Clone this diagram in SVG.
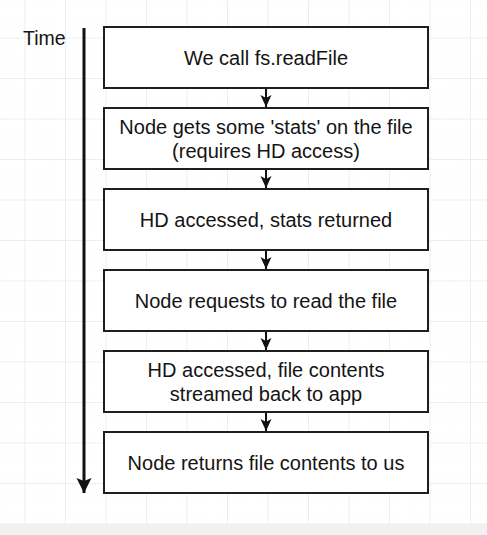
<svg xmlns="http://www.w3.org/2000/svg" width="487" height="535" viewBox="0 0 487 535">
  <defs>
    <pattern id="minor" patternUnits="userSpaceOnUse" x="24.5" y="-3" width="10.125" height="10.125">
      <path d="M0,0 H10.125 M0,0 V10.125" fill="none" stroke="#f5f5f5" stroke-width="1" stroke-dasharray="1,2"/>
    </pattern>
    <pattern id="major" patternUnits="userSpaceOnUse" x="24.5" y="-3" width="40.5" height="40.5">
      <path d="M0,0.5 H40.5 M0.5,0 V40.5" fill="none" stroke="#eeeeee" stroke-width="1"/>
    </pattern>
    <marker id="arrow" markerUnits="userSpaceOnUse" viewBox="-13 -7 14 14" markerWidth="14" markerHeight="14" refX="0" refY="0" orient="auto">
      <path d="M0,0 L-12,-5.5 L-9,0 L-12,5.5 Z" fill="#111"/>
    </marker>
    <marker id="bigArrow" markerUnits="userSpaceOnUse" viewBox="-16 -8 17 16" markerWidth="17" markerHeight="16" refX="0" refY="0" orient="auto">
      <path d="M0,0 L-15,-7.5 L-12,0 L-15,7.5 Z" fill="#111"/>
    </marker>
  </defs>
  <style>
    .box { fill: #ffffff; stroke: #1e1e1e; stroke-width: 2; }
    .lbl { font-family: "Liberation Sans", Arial, Helvetica, sans-serif; font-size: 20px; fill: #141414; text-anchor: middle; }
    .time { font-family: "Liberation Sans", Arial, Helvetica, sans-serif; font-size: 19.5px; fill: #141414; }
    .conn { stroke: #111; stroke-width: 2; fill: none; }
    .timeline { stroke: #111; stroke-width: 3; fill: none; }
  </style>

  <rect x="0" y="0" width="487" height="535" fill="#ffffff"/>
  <rect x="0" y="0" width="487" height="535" fill="url(#minor)"/>
  <rect x="0" y="0" width="487" height="535" fill="url(#major)"/>
  <rect x="0" y="524" width="487" height="11" fill="#f1f1f1"/>

  <g id="time-axis">
    <text class="time" x="23" y="45">Time</text>
    <line class="timeline" x1="84" y1="28" x2="84" y2="493" marker-end="url(#bigArrow)"/>
  </g>

  <g id="connectors">
    <line class="conn" x1="266" y1="88" x2="266" y2="107" marker-end="url(#arrow)"/>
    <line class="conn" x1="266" y1="169" x2="266" y2="188" marker-end="url(#arrow)"/>
    <line class="conn" x1="266" y1="250" x2="266" y2="269" marker-end="url(#arrow)"/>
    <line class="conn" x1="266" y1="331" x2="266" y2="350" marker-end="url(#arrow)"/>
    <line class="conn" x1="266" y1="412" x2="266" y2="431" marker-end="url(#arrow)"/>
  </g>

  <g id="node1">
    <rect class="box" x="104" y="27" width="324" height="61"/>
    <text class="lbl" x="266" y="64.5">We call fs.readFile</text>
  </g>
  <g id="node2">
    <rect class="box" x="104" y="108" width="324" height="61"/>
    <text class="lbl" x="266" y="133.5">Node gets some 'stats' on the file</text>
    <text class="lbl" x="266" y="157.5">(requires HD access)</text>
  </g>
  <g id="node3">
    <rect class="box" x="104" y="189" width="324" height="61"/>
    <text class="lbl" x="266" y="226.5">HD accessed, stats returned</text>
  </g>
  <g id="node4">
    <rect class="box" x="104" y="270" width="324" height="61"/>
    <text class="lbl" x="266" y="307.5">Node requests to read the file</text>
  </g>
  <g id="node5">
    <rect class="box" x="104" y="351" width="324" height="61"/>
    <text class="lbl" x="266" y="376.5">HD accessed, file contents</text>
    <text class="lbl" x="266" y="400.5">streamed back to app</text>
  </g>
  <g id="node6">
    <rect class="box" x="104" y="432" width="324" height="61"/>
    <text class="lbl" x="266" y="469.5">Node returns file contents to us</text>
  </g>
</svg>
